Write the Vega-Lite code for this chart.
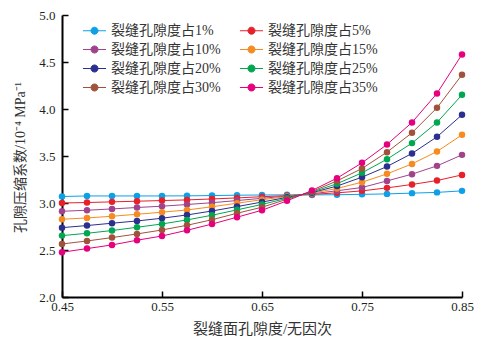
{
  "$schema": "https://vega.github.io/schema/vega-lite/v6.json",
  "width": 400,
  "height": 282,
  "autosize": {"type": "none"},
  "padding": {"left": 62, "top": 15, "right": 22, "bottom": 46},
  "background": "white",
  "config": {
    "view": {"stroke": null},
    "axis": {
      "domainColor": "#000000",
      "domainWidth": 2,
      "tickColor": "#000000",
      "tickWidth": 1.5,
      "tickSize": -6,
      "grid": false,
      "labelFlush": false,
      "labelFont": "Liberation Serif",
      "labelFontSize": 13,
      "labelColor": "#231f20",
      "titleFont": "Liberation Serif, Noto Sans CJK SC",
      "titleFontSize": 14,
      "titleFontWeight": "normal",
      "titleColor": "#333333"
    }
  },
  "datasets": {
    "d": [
      {"x":0.45,"s":"1%","y":3.069},{"x":0.475,"s":"1%","y":3.075},{"x":0.5,"s":"1%","y":3.075},{"x":0.525,"s":"1%","y":3.075},{"x":0.55,"s":"1%","y":3.075},{"x":0.575,"s":"1%","y":3.076},{"x":0.6,"s":"1%","y":3.079},{"x":0.625,"s":"1%","y":3.083},{"x":0.65,"s":"1%","y":3.085},{"x":0.675,"s":"1%","y":3.087},{"x":0.7,"s":"1%","y":3.086},{"x":0.725,"s":"1%","y":3.088},{"x":0.75,"s":"1%","y":3.092},{"x":0.775,"s":"1%","y":3.097},{"x":0.8,"s":"1%","y":3.105},{"x":0.825,"s":"1%","y":3.113},{"x":0.85,"s":"1%","y":3.129},
      {"x":0.45,"s":"5%","y":3.0},{"x":0.475,"s":"5%","y":3.005},{"x":0.5,"s":"5%","y":3.012},{"x":0.525,"s":"5%","y":3.019},{"x":0.55,"s":"5%","y":3.026},{"x":0.575,"s":"5%","y":3.033},{"x":0.6,"s":"5%","y":3.043},{"x":0.625,"s":"5%","y":3.054},{"x":0.65,"s":"5%","y":3.067},{"x":0.675,"s":"5%","y":3.078},{"x":0.7,"s":"5%","y":3.092},{"x":0.725,"s":"5%","y":3.108},{"x":0.75,"s":"5%","y":3.129},{"x":0.775,"s":"5%","y":3.161},{"x":0.8,"s":"5%","y":3.197},{"x":0.825,"s":"5%","y":3.239},{"x":0.85,"s":"5%","y":3.299},
      {"x":0.45,"s":"10%","y":2.912},{"x":0.475,"s":"10%","y":2.923},{"x":0.5,"s":"10%","y":2.937},{"x":0.525,"s":"10%","y":2.952},{"x":0.55,"s":"10%","y":2.966},{"x":0.575,"s":"10%","y":2.984},{"x":0.6,"s":"10%","y":3.003},{"x":0.625,"s":"10%","y":3.026},{"x":0.65,"s":"10%","y":3.05},{"x":0.675,"s":"10%","y":3.074},{"x":0.7,"s":"10%","y":3.098},{"x":0.725,"s":"10%","y":3.13},{"x":0.75,"s":"10%","y":3.165},{"x":0.775,"s":"10%","y":3.235},{"x":0.8,"s":"10%","y":3.307},{"x":0.825,"s":"10%","y":3.395},{"x":0.85,"s":"10%","y":3.512},
      {"x":0.45,"s":"15%","y":2.827},{"x":0.475,"s":"15%","y":2.841},{"x":0.5,"s":"15%","y":2.859},{"x":0.525,"s":"15%","y":2.88},{"x":0.55,"s":"15%","y":2.902},{"x":0.575,"s":"15%","y":2.926},{"x":0.6,"s":"15%","y":2.96},{"x":0.625,"s":"15%","y":2.998},{"x":0.65,"s":"15%","y":3.035},{"x":0.675,"s":"15%","y":3.068},{"x":0.7,"s":"15%","y":3.104},{"x":0.725,"s":"15%","y":3.155},{"x":0.75,"s":"15%","y":3.221},{"x":0.775,"s":"15%","y":3.31},{"x":0.8,"s":"15%","y":3.416},{"x":0.825,"s":"15%","y":3.548},{"x":0.85,"s":"15%","y":3.725},
      {"x":0.45,"s":"20%","y":2.738},{"x":0.475,"s":"20%","y":2.76},{"x":0.5,"s":"20%","y":2.785},{"x":0.525,"s":"20%","y":2.809},{"x":0.55,"s":"20%","y":2.838},{"x":0.575,"s":"20%","y":2.873},{"x":0.6,"s":"20%","y":2.915},{"x":0.625,"s":"20%","y":2.962},{"x":0.65,"s":"20%","y":3.01},{"x":0.675,"s":"20%","y":3.06},{"x":0.7,"s":"20%","y":3.11},{"x":0.725,"s":"20%","y":3.18},{"x":0.75,"s":"20%","y":3.275},{"x":0.775,"s":"20%","y":3.388},{"x":0.8,"s":"20%","y":3.527},{"x":0.825,"s":"20%","y":3.704},{"x":0.85,"s":"20%","y":3.938},
      {"x":0.45,"s":"25%","y":2.653},{"x":0.475,"s":"25%","y":2.678},{"x":0.5,"s":"25%","y":2.707},{"x":0.525,"s":"25%","y":2.742},{"x":0.55,"s":"25%","y":2.777},{"x":0.575,"s":"25%","y":2.82},{"x":0.6,"s":"25%","y":2.87},{"x":0.625,"s":"25%","y":2.927},{"x":0.65,"s":"25%","y":2.985},{"x":0.675,"s":"25%","y":3.05},{"x":0.7,"s":"25%","y":3.116},{"x":0.725,"s":"25%","y":3.205},{"x":0.75,"s":"25%","y":3.321},{"x":0.775,"s":"25%","y":3.466},{"x":0.8,"s":"25%","y":3.637},{"x":0.825,"s":"25%","y":3.857},{"x":0.85,"s":"25%","y":4.151},
      {"x":0.45,"s":"30%","y":2.564},{"x":0.475,"s":"30%","y":2.596},{"x":0.5,"s":"30%","y":2.632},{"x":0.525,"s":"30%","y":2.671},{"x":0.55,"s":"30%","y":2.713},{"x":0.575,"s":"30%","y":2.763},{"x":0.6,"s":"30%","y":2.822},{"x":0.625,"s":"30%","y":2.891},{"x":0.65,"s":"30%","y":2.955},{"x":0.675,"s":"30%","y":3.04},{"x":0.7,"s":"30%","y":3.122},{"x":0.725,"s":"30%","y":3.235},{"x":0.75,"s":"30%","y":3.367},{"x":0.775,"s":"30%","y":3.541},{"x":0.8,"s":"30%","y":3.747},{"x":0.825,"s":"30%","y":4.013},{"x":0.85,"s":"30%","y":4.364},
      {"x":0.45,"s":"35%","y":2.476},{"x":0.475,"s":"35%","y":2.515},{"x":0.5,"s":"35%","y":2.554},{"x":0.525,"s":"35%","y":2.604},{"x":0.55,"s":"35%","y":2.649},{"x":0.575,"s":"35%","y":2.71},{"x":0.6,"s":"35%","y":2.776},{"x":0.625,"s":"35%","y":2.849},{"x":0.65,"s":"35%","y":2.923},{"x":0.675,"s":"35%","y":3.023},{"x":0.7,"s":"35%","y":3.133},{"x":0.725,"s":"35%","y":3.264},{"x":0.75,"s":"35%","y":3.427},{"x":0.775,"s":"35%","y":3.623},{"x":0.8,"s":"35%","y":3.857},{"x":0.825,"s":"35%","y":4.166},{"x":0.85,"s":"35%","y":4.581}
    ]
  },
  "data": {"name": "d"},
  "encoding": {
    "x": {
      "field": "x", "type": "quantitative",
      "scale": {"domain": [0.45, 0.85], "nice": false, "zero": false},
      "axis": {
        "values": [0.45, 0.55, 0.65, 0.75, 0.85],
        "format": ".2f",
        "labelPadding": 9,
        "title": "裂缝面孔隙度/无因次",
        "titleFontSize": 15,
        "titleY": 31,
        "titleBaseline": "middle"
      }
    },
    "y": {
      "field": "y", "type": "quantitative",
      "scale": {"domain": [2, 5], "nice": false, "zero": false},
      "axis": {
        "values": [2, 2.5, 3, 3.5, 4, 4.5, 5],
        "format": ".1f",
        "labelPadding": 13,
        "title": "孔隙压缩系数/10⁻⁴ MPa⁻¹",
        "titleX": -42,
        "titleY": 142,
        "titleAngle": -90,
        "titleAlign": "center",
        "titleBaseline": "middle"
      }
    },
    "color": {
      "field": "s", "type": "nominal",
      "scale": {
        "domain": ["1%", "5%", "10%", "15%", "20%", "25%", "30%", "35%"],
        "range": ["#0ea0e6", "#e8202a", "#a0438c", "#f68b1f", "#2b2f8f", "#00a650", "#a0533a", "#e6007e"]
      },
      "legend": {
        "orient": "none",
        "direction": "horizontal",
        "legendX": 21,
        "legendY": 4,
        "columns": 2,
        "title": null,
        "padding": 0,
        "rowPadding": 0,
        "columnPadding": 16,
        "symbolType": "M-1.05,0H1.05M-0.32,0A0.32,0.32,0,1,0,0.32,0A0.32,0.32,0,1,0,-0.32,0Z",
        "symbolSize": 484,
        "symbolStrokeWidth": 1,
        "labelFont": "Liberation Serif, Noto Sans CJK SC",
        "labelFontSize": 14,
        "labelColor": "#333333",
        "labelOffset": 5,
        "labelExpr": "'裂缝孔隙度占' + datum.label",
        "encode": {
          "symbols": {
            "update": {
              "fill": {"scale": "color", "field": "value"},
              "stroke": {"scale": "color", "field": "value"},
              "opacity": {"value": 1}
            }
          }
        }
      }
    }
  },
  "layer": [
    {"mark": {"type": "line", "strokeWidth": 1}},
    {"mark": {"type": "point", "filled": true, "size": 42, "opacity": 1}}
  ]
}
